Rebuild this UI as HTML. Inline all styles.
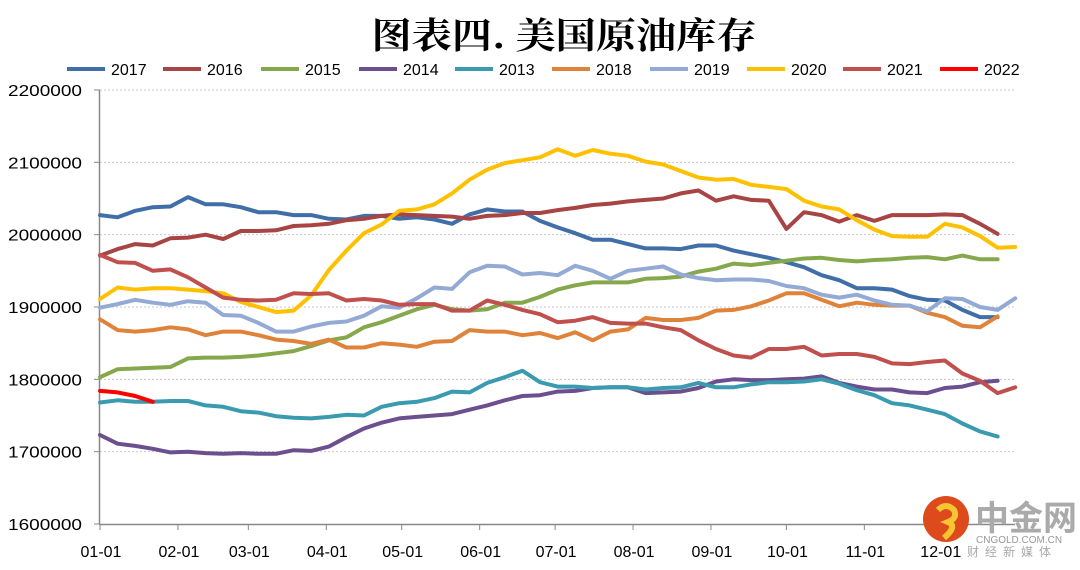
<!DOCTYPE html>
<html><head><meta charset="utf-8"><style>
html,body{margin:0;padding:0;background:#fff;}
svg{display:block;font-family:"Liberation Sans","Noto Sans CJK SC",sans-serif;}
</style></head><body>
<svg id="chart" width="1080" height="570" viewBox="0 0 1080 570">
<text x="564" y="48" text-anchor="middle" font-size="36" font-weight="bold" font-family="'Noto Serif CJK SC','Noto Sans CJK SC',serif" textLength="385" lengthAdjust="spacingAndGlyphs">图表四. 美国原油库存</text>
<g id="grid"></g>
<g id="yaxis"></g>
<g id="xaxis"></g>
<g id="series"></g>
<g id="legend"></g>
<g>
<circle cx="946" cy="519" r="23" fill="#dd4a1c"/>
<path d="M938 510 q8 -8 16 0 q4 8 -6 12 q10 4 -4 16" stroke="#f7c531" stroke-width="6" fill="none"/>
<text x="975" y="530" font-size="34" font-weight="bold" fill="#aaa" font-family="'Noto Sans CJK SC',sans-serif">中金网</text>
<text x="976" y="543" font-size="10" fill="#999">CNGOLD.COM.CN</text>
<text x="967" y="556" font-size="12" fill="#aaa" letter-spacing="6" font-family="'Noto Sans CJK SC',sans-serif">财经新媒体</text>
</g>
</svg>
<script>
const yTicks=[1600000,1700000,1800000,1900000,2000000,2100000,2200000];
const xTickLabels=["01-01","02-01","03-01","04-01","05-01","06-01","07-01","08-01","09-01","10-01","11-01","12-01"];
const xTickDays=[0,31,59,90,120,151,181,212,243,273,304,334];
const seriesNames=["2017","2016","2015","2014","2013","2018","2019","2020","2021","2022"];
const seriesColors=["#3F6EA8","#A84444","#86A84C","#6B4F8E","#3A9AAF","#E0833A","#93AAD4","#FFC000","#C0504D","#FF0000"];
const s2017=[2027,2024,2033,2038,2039,2052,2042,2042,2038,2031,2031,2027,2027,2022,2021,2026,2026,2022,2024,2021,2015,2028,2035,2032,2032,2019,2010,2002,1993,1993,1987,1981,1981,1980,1985,1985,1978,1973,1968,1962,1955,1944,1937,1926,1926,1924,1915,1910,1909,1896,1886,1886];
const s2016=[1971,1980,1987,1985,1995,1996,2000,1994,2005,2005,2006,2012,2013,2015,2020,2022,2026,2028,2027,2026,2025,2022,2026,2027,2030,2030,2034,2037,2041,2043,2046,2048,2050,2057,2061,2047,2053,2048,2047,2008,2031,2027,2018,2027,2019,2027,2027,2027,2028,2027,2015,2001];
const s2015=[1803,1814,1815,1816,1817,1829,1830,1830,1831,1833,1836,1839,1846,1854,1858,1872,1879,1888,1897,1903,1897,1895,1897,1906,1906,1914,1924,1930,1934,1934,1934,1939,1940,1942,1949,1953,1960,1958,1961,1964,1967,1968,1965,1963,1965,1966,1968,1969,1966,1971,1966,1966];
const s2014=[1723,1711,1708,1704,1699,1700,1698,1697,1698,1697,1697,1702,1701,1707,1720,1732,1740,1746,1748,1750,1752,1758,1764,1771,1777,1778,1783,1784,1788,1789,1789,1781,1782,1783,1788,1797,1800,1799,1799,1800,1801,1804,1795,1790,1786,1786,1782,1781,1788,1790,1796,1798];
const s2013=[1768,1771,1769,1769,1770,1770,1764,1762,1756,1754,1749,1747,1746,1748,1751,1750,1762,1767,1769,1774,1783,1782,1795,1803,1812,1796,1790,1790,1788,1789,1789,1786,1788,1789,1795,1789,1789,1793,1796,1796,1797,1800,1794,1785,1778,1767,1764,1758,1752,1739,1728,1721];
const s2018=[1883,1868,1866,1868,1872,1869,1861,1866,1866,1861,1855,1853,1849,1855,1844,1844,1850,1848,1845,1852,1853,1868,1866,1866,1861,1864,1857,1865,1854,1866,1869,1885,1882,1882,1885,1895,1896,1901,1909,1919,1919,1910,1901,1906,1903,1902,1902,1892,1886,1874,1872,1887];
const s2019=[1899,1904,1910,1906,1903,1908,1906,1889,1888,1878,1866,1866,1873,1878,1880,1888,1901,1899,1912,1927,1925,1948,1957,1956,1945,1947,1944,1957,1950,1939,1950,1953,1956,1945,1940,1937,1938,1938,1936,1929,1926,1917,1913,1917,1909,1903,1902,1894,1912,1911,1900,1896,1912];
const s2020=[1911,1927,1924,1926,1926,1924,1922,1919,1907,1900,1893,1895,1916,1951,1978,2002,2014,2033,2035,2042,2057,2076,2090,2099,2103,2107,2118,2109,2117,2112,2109,2101,2097,2088,2079,2076,2077,2069,2066,2063,2047,2039,2035,2020,2007,1998,1997,1997,2015,2010,1998,1982,1983];
const s2021=[1972,1962,1961,1950,1952,1941,1927,1913,1910,1909,1910,1919,1918,1919,1909,1911,1909,1903,1904,1904,1895,1895,1909,1903,1896,1890,1879,1881,1886,1878,1877,1877,1872,1868,1854,1842,1833,1830,1842,1842,1845,1833,1835,1835,1831,1822,1821,1824,1826,1808,1798,1781,1789];
const s2022=[1784,1782,1777,1769];
const allSeries=[s2017,s2016,s2015,s2014,s2013,s2018,s2019,s2020,s2021,s2022];

const NS="http://www.w3.org/2000/svg";
const X0=100,WEEK=17.6,DAY=WEEK/7,YTOP=90,YBOT=524,VMIN=1600000,VMAX=2200000;
function xWeek(i){return X0+i*WEEK;}
function xDay(d){return X0+d*DAY;}
function yVal(v){return YBOT-(v-VMIN)/(VMAX-VMIN)*(YBOT-YTOP);}
function mk(tag,attrs,parent){const e=document.createElementNS(NS,tag);for(const k in attrs)e.setAttribute(k,attrs[k]);parent.appendChild(e);return e;}

const grid=document.getElementById('grid'),ya=document.getElementById('yaxis'),xa=document.getElementById('xaxis'),sg=document.getElementById('series'),lg=document.getElementById('legend');
yTicks.forEach(v=>{
  const y=yVal(v);
  if(v>VMIN){const g=mk('line',{x1:100,x2:1015,y1:y,y2:y,stroke:'#c8c8c8','stroke-width':1,'stroke-dasharray':'2,2'},grid);
  
  }
  const t=mk('line',{x1:94,x2:100,y1:y,y2:y,stroke:'#888'},ya);
  
  
  const l=mk('text',{x:82,y:y+6,'text-anchor':'end','font-size':16,textLength:74,lengthAdjust:'spacingAndGlyphs'},ya);
  l.textContent=String(v);
  
  
});
mk('line',{x1:99.5,x2:99.5,y1:YTOP,y2:YBOT,stroke:'#888','stroke-width':1.5},ya);
mk('line',{x1:99,x2:1015,y1:YBOT+0.5,y2:YBOT+0.5,stroke:'#888','stroke-width':1.5},xa);
xTickLabels.forEach((s,i)=>{
  const x=xDay(xTickDays[i]);
  mk('line',{x1:x,x2:x,y1:YBOT,y2:YBOT+6,stroke:'#888'},xa);
  const t=mk('text',{x:x+1,y:557,'text-anchor':'middle','font-size':16},xa);
  t.textContent=s;
  
  
});
allSeries.forEach((arr,k)=>{
  const pts=arr.map((v,i)=>xWeek(i).toFixed(1)+','+yVal(v*1000).toFixed(1)).join(' ');
  const p=mk('polyline',{points:pts,fill:'none',stroke:seriesColors[k],'stroke-width':4,'stroke-linejoin':'round','stroke-linecap':'round'},sg);
  
  
});
const legX=[67,163,261,359,455,552,650,747,843,940];
seriesNames.forEach((n,k)=>{
  const l=mk('line',{x1:legX[k],x2:legX[k]+38,y1:69,y2:69,stroke:seriesColors[k],'stroke-width':4},lg);
  
  
  const t=mk('text',{x:legX[k]+44,y:75,'font-size':16},lg);
  t.textContent=n;
  
  
});
</script>
</body></html>
